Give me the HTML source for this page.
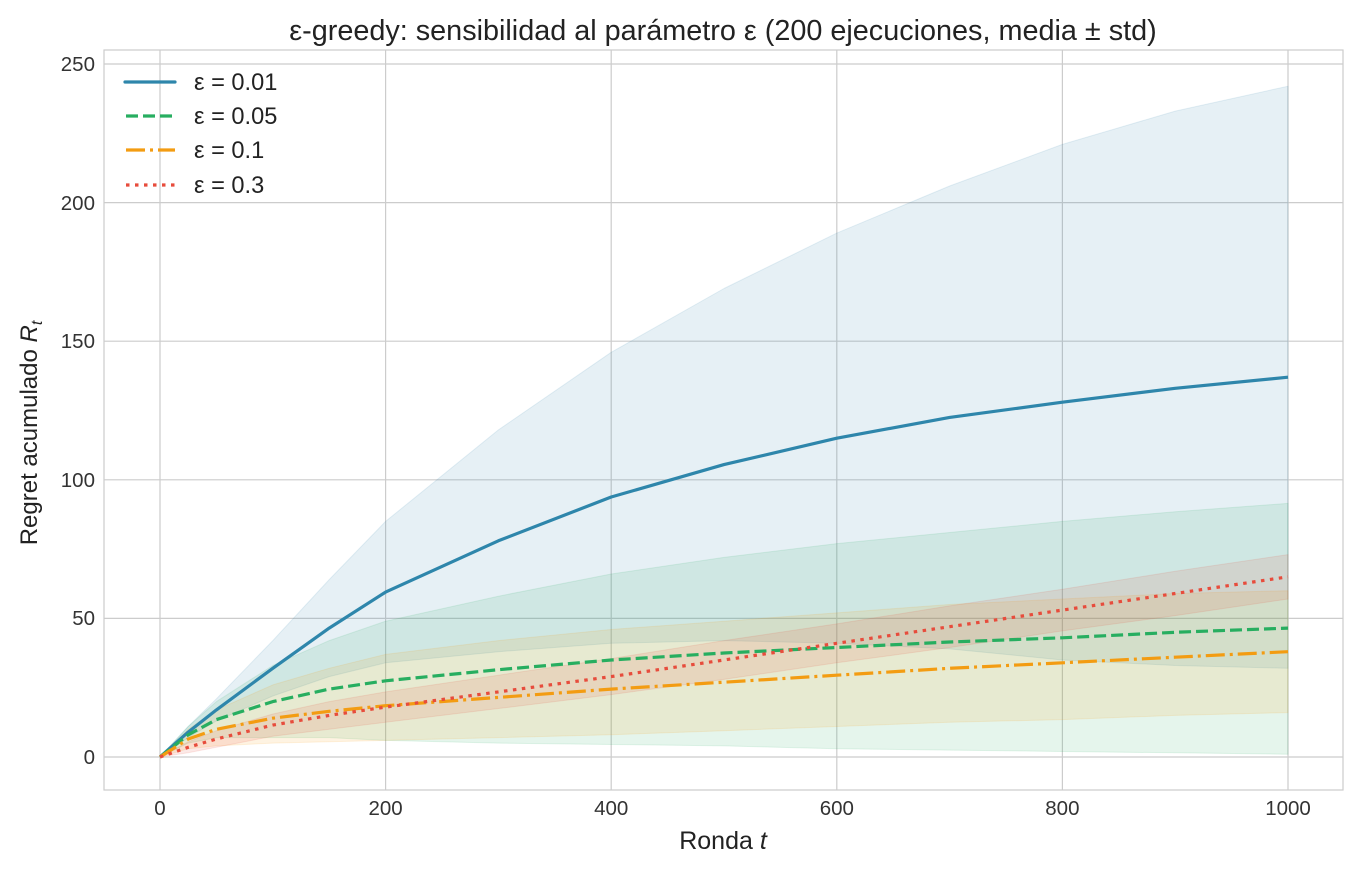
<!DOCTYPE html>
<html><head><meta charset="utf-8"><style>body{margin:0;background:#fff}svg{display:block}</style></head><body>
<svg width="1359" height="871" xmlns="http://www.w3.org/2000/svg" font-family="Liberation Sans, DejaVu Sans, sans-serif">
<rect width="1359" height="871" fill="#fff"/>
<g stroke="#cccccc" stroke-width="1.2">
<line x1="160" y1="50" x2="160" y2="790"/><line x1="385.6" y1="50" x2="385.6" y2="790"/><line x1="611.2" y1="50" x2="611.2" y2="790"/><line x1="836.8" y1="50" x2="836.8" y2="790"/><line x1="1062.4" y1="50" x2="1062.4" y2="790"/><line x1="1288" y1="50" x2="1288" y2="790"/>
<line x1="104" y1="757" x2="1343" y2="757"/><line x1="104" y1="618.4" x2="1343" y2="618.4"/><line x1="104" y1="479.8" x2="1343" y2="479.8"/><line x1="104" y1="341.2" x2="1343" y2="341.2"/><line x1="104" y1="202.6" x2="1343" y2="202.6"/><line x1="104" y1="64" x2="1343" y2="64"/>
</g>
<rect x="104" y="50" width="1239" height="740" fill="none" stroke="#cccccc" stroke-width="1.2"/>
<g stroke-linejoin="round">
<polygon fill="#2e86ab" fill-opacity="0.12" stroke="#2e86ab" stroke-opacity="0.12" points="160,757 188.2,726.5 216.4,698.8 272.8,640.6 329.2,579.6 385.6,521.4 498.4,429.9 611.2,352.3 724,288.5 836.8,233.1 949.6,186 1062.4,144.4 1175.2,111.1 1288,86.2 1288,668.3 1175.2,665.5 1062.4,660 949.6,648.9 836.8,643.3 724,640.6 611.2,643.3 498.4,651.7 385.6,662.8 329.2,676.6 272.8,696 216.4,721 188.2,737.6"/>
<polygon fill="#27ae60" fill-opacity="0.12" stroke="#27ae60" stroke-opacity="0.12" points="160,757 188.2,726.5 216.4,701.6 272.8,665.5 329.2,640.6 385.6,621.2 498.4,596.2 611.2,574 724,557.4 836.8,543.6 949.6,532.5 1062.4,521.4 1175.2,511.7 1288,503.4 1288,754.2 1175.2,752.8 1062.4,751.5 949.6,750.1 836.8,748.7 724,745.9 611.2,744.5 498.4,743.1 385.6,740.4 329.2,737.6 272.8,737.6 216.4,737.6 188.2,743.1"/>
<polygon fill="#f39c12" fill-opacity="0.12" stroke="#f39c12" stroke-opacity="0.12" points="160,757 188.2,729.3 216.4,709.9 272.8,684.9 329.2,668.3 385.6,654.4 498.4,640.6 611.2,629.5 724,621.2 836.8,612.9 949.6,604.5 1062.4,599 1175.2,593.5 1288,590.7 1288,712.6 1175.2,715.4 1062.4,719.6 949.6,722.3 836.8,726.5 724,730.7 611.2,734.8 498.4,737.6 385.6,740.4 329.2,741.8 272.8,743.1 216.4,745.9 188.2,748.7"/>
<polygon fill="#e74c3c" fill-opacity="0.12" stroke="#e74c3c" stroke-opacity="0.12" points="160,757 188.2,741.8 216.4,730.7 272.8,714 329.2,701.6 385.6,691.9 498.4,675.2 611.2,658.6 724,640.6 836.8,623.9 949.6,605.9 1062.4,589.3 1175.2,571.3 1288,554.6 1288,599 1175.2,615.6 1062.4,630.9 949.6,647.5 836.8,662.8 724,679.4 611.2,694.6 498.4,708.5 385.6,722.3 329.2,729.3 272.8,736.2 216.4,747.3 188.2,752.8"/>
</g>
<g fill="none" stroke-width="3.2" stroke-linejoin="round">
<polyline stroke="#2e86ab" points="160,757 188.2,732.1 216.4,709.9 272.8,668.3 329.2,628.1 385.6,592.1 498.4,540.8 611.2,497 724,464.6 836.8,438.2 949.6,417.4 1062.4,402.2 1175.2,388.3 1288,377.2"/>
<polyline stroke="#27ae60" stroke-dasharray="12,5" points="160,757 188.2,734.8 216.4,719.6 272.8,701.6 329.2,689.1 385.6,680.8 498.4,669.7 611.2,660 724,653 836.8,647.5 949.6,642 1062.4,637.8 1175.2,632.3 1288,628.1"/>
<polyline stroke="#f39c12" stroke-dasharray="19,5,3,5" points="160,757 188.2,739 216.4,729.3 272.8,718.2 329.2,711.3 385.6,705.7 498.4,697.4 611.2,689.1 724,682.2 836.8,675.2 949.6,668.3 1062.4,662.8 1175.2,657.2 1288,651.7"/>
<polyline stroke="#e74c3c" stroke-dasharray="3.5,5.5" points="160,757 188.2,747.3 216.4,739 272.8,725.1 329.2,715.4 385.6,707.1 498.4,691.9 611.2,676.6 724,660 836.8,643.3 949.6,626.7 1062.4,610.1 1175.2,593.5 1288,576.8"/>
</g>
<g font-size="20.5" fill="#333" text-anchor="middle">
<text x="160" y="815">0</text><text x="385.6" y="815">200</text><text x="611.2" y="815">400</text><text x="836.8" y="815">600</text><text x="1062.4" y="815">800</text><text x="1288" y="815">1000</text>
</g>
<g font-size="20.5" fill="#333" text-anchor="end">
<text x="95" y="764">0</text><text x="95" y="625">50</text><text x="95" y="487">100</text><text x="95" y="348">150</text><text x="95" y="210">200</text><text x="95" y="71">250</text>
</g>
<text x="723" y="849" font-size="25" fill="#222" text-anchor="middle">Ronda <tspan font-style="italic">t</tspan></text>
<text transform="translate(37,433) rotate(-90)" font-size="24" fill="#222" text-anchor="middle">Regret acumulado <tspan font-style="italic">R</tspan><tspan font-style="italic" font-size="16" dy="5">t</tspan></text>
<text x="723" y="40" font-size="28.8" fill="#222" text-anchor="middle">ε-greedy: sensibilidad al parámetro ε (200 ejecuciones, media ± std)</text>
<g stroke-width="3.2" fill="none">
<line x1="125" y1="82" x2="175" y2="82" stroke="#2e86ab" stroke-linecap="round"/>
<line x1="126" y1="116" x2="175" y2="116" stroke="#27ae60" stroke-dasharray="12,5"/>
<line x1="126" y1="150" x2="175" y2="150" stroke="#f39c12" stroke-dasharray="19,5,3,5"/>
<line x1="126" y1="185" x2="175" y2="185" stroke="#e74c3c" stroke-dasharray="3.5,5.5"/>
</g>
<g font-size="23.6" fill="#222">
<text x="194" y="90">ε = 0.01</text><text x="194" y="124">ε = 0.05</text><text x="194" y="158">ε = 0.1</text><text x="194" y="193">ε = 0.3</text>
</g>
</svg>
</body></html>
